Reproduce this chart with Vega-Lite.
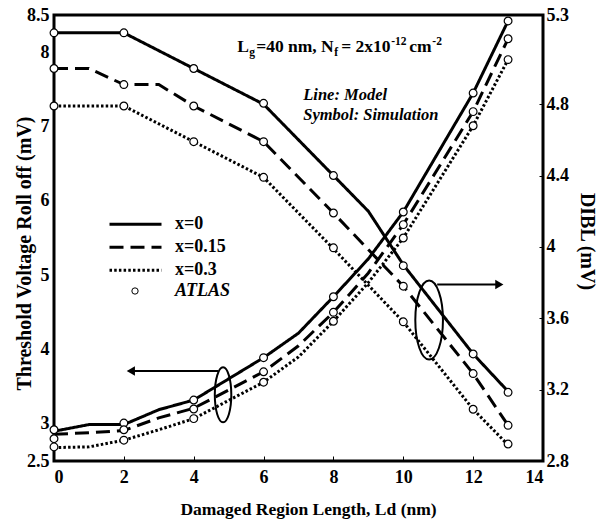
{
  "$schema": "https://vega.github.io/schema/vega-lite/v6.json",
  "width": 489,
  "height": 446,
  "autosize": {"type": "none"},
  "padding": {"left": 54, "top": 15, "right": 54, "bottom": 60},
  "background": "white",
  "config": {
    "view": {"stroke": "black", "strokeWidth": 3},
    "font": "Liberation Serif",
    "axis": {
      "domain": false, "grid": false,
      "labelFont": "Liberation Serif", "labelFontWeight": "bold", "labelFontSize": 18, "labelColor": "black",
      "titleFont": "Liberation Serif", "titleFontWeight": "bold", "titleColor": "black",
      "tickColor": "black"
    },
    "legend": {"labelFont": "Liberation Serif", "labelColor": "black"}
  },
  "datasets": {
    "lines": [
      {"L": 0, "series": "x=0", "kind": "V", "value": 2.90},
      {"L": 1, "series": "x=0", "kind": "V", "value": 2.99},
      {"L": 2, "series": "x=0", "kind": "V", "value": 2.99},
      {"L": 3, "series": "x=0", "kind": "V", "value": 3.19},
      {"L": 4, "series": "x=0", "kind": "V", "value": 3.32},
      {"L": 6, "series": "x=0", "kind": "V", "value": 3.89},
      {"L": 7, "series": "x=0", "kind": "V", "value": 4.22},
      {"L": 8, "series": "x=0", "kind": "V", "value": 4.71},
      {"L": 9, "series": "x=0", "kind": "V", "value": 5.22},
      {"L": 10, "series": "x=0", "kind": "V", "value": 5.85},
      {"L": 12, "series": "x=0", "kind": "V", "value": 7.45},
      {"L": 13, "series": "x=0", "kind": "V", "value": 8.42},
      {"L": 0, "series": "x=0.15", "kind": "V", "value": 2.86},
      {"L": 1, "series": "x=0.15", "kind": "V", "value": 2.88},
      {"L": 2, "series": "x=0.15", "kind": "V", "value": 2.91},
      {"L": 3, "series": "x=0.15", "kind": "V", "value": 3.08},
      {"L": 4, "series": "x=0.15", "kind": "V", "value": 3.21},
      {"L": 6, "series": "x=0.15", "kind": "V", "value": 3.70},
      {"L": 7, "series": "x=0.15", "kind": "V", "value": 4.05},
      {"L": 8, "series": "x=0.15", "kind": "V", "value": 4.50},
      {"L": 9, "series": "x=0.15", "kind": "V", "value": 5.03},
      {"L": 10, "series": "x=0.15", "kind": "V", "value": 5.68},
      {"L": 12, "series": "x=0.15", "kind": "V", "value": 7.20},
      {"L": 13, "series": "x=0.15", "kind": "V", "value": 8.18},
      {"L": 0, "series": "x=0.3", "kind": "V", "value": 2.68},
      {"L": 1, "series": "x=0.3", "kind": "V", "value": 2.69},
      {"L": 2, "series": "x=0.3", "kind": "V", "value": 2.78},
      {"L": 3, "series": "x=0.3", "kind": "V", "value": 2.92},
      {"L": 4, "series": "x=0.3", "kind": "V", "value": 3.07},
      {"L": 6, "series": "x=0.3", "kind": "V", "value": 3.56},
      {"L": 7, "series": "x=0.3", "kind": "V", "value": 3.90},
      {"L": 8, "series": "x=0.3", "kind": "V", "value": 4.38},
      {"L": 9, "series": "x=0.3", "kind": "V", "value": 4.90},
      {"L": 10, "series": "x=0.3", "kind": "V", "value": 5.50},
      {"L": 12, "series": "x=0.3", "kind": "V", "value": 7.01},
      {"L": 13, "series": "x=0.3", "kind": "V", "value": 7.90},
      {"L": 0, "series": "x=0", "kind": "D", "value": 5.20},
      {"L": 2, "series": "x=0", "kind": "D", "value": 5.20},
      {"L": 4, "series": "x=0", "kind": "D", "value": 5.00},
      {"L": 6, "series": "x=0", "kind": "D", "value": 4.80},
      {"L": 8, "series": "x=0", "kind": "D", "value": 4.40},
      {"L": 9, "series": "x=0", "kind": "D", "value": 4.20},
      {"L": 10, "series": "x=0", "kind": "D", "value": 3.90},
      {"L": 12, "series": "x=0", "kind": "D", "value": 3.40},
      {"L": 13, "series": "x=0", "kind": "D", "value": 3.19},
      {"L": 0, "series": "x=0.15", "kind": "D", "value": 5.00},
      {"L": 1, "series": "x=0.15", "kind": "D", "value": 5.00},
      {"L": 2, "series": "x=0.15", "kind": "D", "value": 4.91},
      {"L": 3, "series": "x=0.15", "kind": "D", "value": 4.91},
      {"L": 4, "series": "x=0.15", "kind": "D", "value": 4.79},
      {"L": 6, "series": "x=0.15", "kind": "D", "value": 4.59},
      {"L": 8, "series": "x=0.15", "kind": "D", "value": 4.19},
      {"L": 10, "series": "x=0.15", "kind": "D", "value": 3.78},
      {"L": 12, "series": "x=0.15", "kind": "D", "value": 3.29},
      {"L": 13, "series": "x=0.15", "kind": "D", "value": 3.00},
      {"L": 0, "series": "x=0.3", "kind": "D", "value": 4.79},
      {"L": 2, "series": "x=0.3", "kind": "D", "value": 4.79},
      {"L": 4, "series": "x=0.3", "kind": "D", "value": 4.59},
      {"L": 6, "series": "x=0.3", "kind": "D", "value": 4.39},
      {"L": 8, "series": "x=0.3", "kind": "D", "value": 3.99},
      {"L": 10, "series": "x=0.3", "kind": "D", "value": 3.58},
      {"L": 12, "series": "x=0.3", "kind": "D", "value": 3.09},
      {"L": 13, "series": "x=0.3", "kind": "D", "value": 2.89}
    ],
    "sims": [
      {"L": 0, "series": "x=0", "kind": "V", "value": 2.92, "src": "ATLAS"},
      {"L": 2, "series": "x=0", "kind": "V", "value": 3.01, "src": "ATLAS"},
      {"L": 4, "series": "x=0", "kind": "V", "value": 3.32, "src": "ATLAS"},
      {"L": 6, "series": "x=0", "kind": "V", "value": 3.89, "src": "ATLAS"},
      {"L": 8, "series": "x=0", "kind": "V", "value": 4.71, "src": "ATLAS"},
      {"L": 10, "series": "x=0", "kind": "V", "value": 5.85, "src": "ATLAS"},
      {"L": 12, "series": "x=0", "kind": "V", "value": 7.45, "src": "ATLAS"},
      {"L": 13, "series": "x=0", "kind": "V", "value": 8.42, "src": "ATLAS"},
      {"L": 0, "series": "x=0.15", "kind": "V", "value": 2.80, "src": "ATLAS"},
      {"L": 2, "series": "x=0.15", "kind": "V", "value": 2.92, "src": "ATLAS"},
      {"L": 4, "series": "x=0.15", "kind": "V", "value": 3.20, "src": "ATLAS"},
      {"L": 6, "series": "x=0.15", "kind": "V", "value": 3.70, "src": "ATLAS"},
      {"L": 8, "series": "x=0.15", "kind": "V", "value": 4.50, "src": "ATLAS"},
      {"L": 10, "series": "x=0.15", "kind": "V", "value": 5.68, "src": "ATLAS"},
      {"L": 12, "series": "x=0.15", "kind": "V", "value": 7.20, "src": "ATLAS"},
      {"L": 13, "series": "x=0.15", "kind": "V", "value": 8.18, "src": "ATLAS"},
      {"L": 0, "series": "x=0.3", "kind": "V", "value": 2.69, "src": "ATLAS"},
      {"L": 2, "series": "x=0.3", "kind": "V", "value": 2.78, "src": "ATLAS"},
      {"L": 4, "series": "x=0.3", "kind": "V", "value": 3.07, "src": "ATLAS"},
      {"L": 6, "series": "x=0.3", "kind": "V", "value": 3.56, "src": "ATLAS"},
      {"L": 8, "series": "x=0.3", "kind": "V", "value": 4.38, "src": "ATLAS"},
      {"L": 10, "series": "x=0.3", "kind": "V", "value": 5.50, "src": "ATLAS"},
      {"L": 12, "series": "x=0.3", "kind": "V", "value": 7.01, "src": "ATLAS"},
      {"L": 13, "series": "x=0.3", "kind": "V", "value": 7.90, "src": "ATLAS"},
      {"L": 0, "series": "x=0", "kind": "D", "value": 5.20, "src": "ATLAS"},
      {"L": 2, "series": "x=0", "kind": "D", "value": 5.20, "src": "ATLAS"},
      {"L": 4, "series": "x=0", "kind": "D", "value": 5.00, "src": "ATLAS"},
      {"L": 6, "series": "x=0", "kind": "D", "value": 4.805, "src": "ATLAS"},
      {"L": 8, "series": "x=0", "kind": "D", "value": 4.40, "src": "ATLAS"},
      {"L": 10, "series": "x=0", "kind": "D", "value": 3.895, "src": "ATLAS"},
      {"L": 12, "series": "x=0", "kind": "D", "value": 3.40, "src": "ATLAS"},
      {"L": 13, "series": "x=0", "kind": "D", "value": 3.185, "src": "ATLAS"},
      {"L": 0, "series": "x=0.15", "kind": "D", "value": 5.00, "src": "ATLAS"},
      {"L": 2, "series": "x=0.15", "kind": "D", "value": 4.91, "src": "ATLAS"},
      {"L": 4, "series": "x=0.15", "kind": "D", "value": 4.79, "src": "ATLAS"},
      {"L": 6, "series": "x=0.15", "kind": "D", "value": 4.59, "src": "ATLAS"},
      {"L": 8, "series": "x=0.15", "kind": "D", "value": 4.19, "src": "ATLAS"},
      {"L": 10, "series": "x=0.15", "kind": "D", "value": 3.78, "src": "ATLAS"},
      {"L": 12, "series": "x=0.15", "kind": "D", "value": 3.29, "src": "ATLAS"},
      {"L": 13, "series": "x=0.15", "kind": "D", "value": 3.00, "src": "ATLAS"},
      {"L": 0, "series": "x=0.3", "kind": "D", "value": 4.79, "src": "ATLAS"},
      {"L": 2, "series": "x=0.3", "kind": "D", "value": 4.79, "src": "ATLAS"},
      {"L": 4, "series": "x=0.3", "kind": "D", "value": 4.59, "src": "ATLAS"},
      {"L": 6, "series": "x=0.3", "kind": "D", "value": 4.39, "src": "ATLAS"},
      {"L": 8, "series": "x=0.3", "kind": "D", "value": 3.995, "src": "ATLAS"},
      {"L": 10, "series": "x=0.3", "kind": "D", "value": 3.58, "src": "ATLAS"},
      {"L": 12, "series": "x=0.3", "kind": "D", "value": 3.09, "src": "ATLAS"},
      {"L": 13, "series": "x=0.3", "kind": "D", "value": 2.895, "src": "ATLAS"}
    ]
  },
  "encoding": {
    "x": {
      "field": "L", "type": "quantitative",
      "scale": {"domain": [0, 14], "nice": false, "zero": false},
      "axis": {
        "values": [0, 2, 4, 6, 8, 10, 12, 14], "format": ".2~g",
        "tickSize": -5, "tickWidth": 1, "labelPadding": 12,
        "title": "Damaged Region Length, Ld (nm)", "titleFontSize": 17.5,
        "titleX": 254, "titleY": 53, "titleAlign": "center", "titleBaseline": "alphabetic"
      }
    }
  },
  "layer": [
    {
      "encoding": {
        "y": {
          "field": "value", "type": "quantitative",
          "scale": {"domain": [2.5, 8.5], "nice": false, "zero": false},
          "axis": {
            "orient": "left", "values": [2.5, 3, 4, 5, 6, 7, 8, 8.5], "format": ".2~g",
            "ticks": false, "labelPadding": 5,
            "title": "Threshold Voltage Roll off (mV)", "titleFontSize": 20,
            "titleAngle": 270, "titleX": -24, "titleY": 238, "titleAlign": "center", "titleBaseline": "alphabetic"
          }
        }
      },
      "layer": [
        {
          "data": {"name": "lines"},
          "transform": [{"filter": "datum.kind === 'V'"}],
          "mark": {"type": "line", "color": "black", "strokeWidth": 3},
          "encoding": {
            "strokeDash": {
              "field": "series", "type": "nominal",
              "scale": {"domain": ["x=0", "x=0.15", "x=0.3"], "range": [[1, 0], [14, 7], [2.5, 2.2]]},
              "legend": {
                "title": null, "orient": "none", "legendX": 54, "legendY": 198, "padding": 0,
                "symbolType": "stroke", "symbolSize": 2704, "symbolStrokeWidth": 3, "symbolStrokeColor": "black",
                "labelFontSize": 18, "labelFontWeight": "bold", "labelOffset": 12, "clipHeight": 22.5, "rowPadding": 0
              }
            }
          }
        },
        {
          "data": {"name": "sims"},
          "transform": [{"filter": "datum.kind === 'V'"}],
          "mark": {"type": "point", "shape": "circle", "filled": false, "fill": "white", "strokeWidth": 1.2, "size": 60, "opacity": 1},
          "encoding": {
            "color": {
              "field": "src", "type": "nominal",
              "scale": {"domain": ["ATLAS"], "range": ["black"]},
              "legend": {
                "title": null, "orient": "none", "legendX": 72, "legendY": 267, "padding": 0,
                "symbolType": "circle", "symbolSize": 40, "symbolStrokeWidth": 1,
                "labelFontSize": 18, "labelFontWeight": "bold", "labelFontStyle": "italic", "labelOffset": 31
              }
            }
          }
        },
        {
          "data": {"values": [{"L": 4.84, "value": 3.39}]},
          "mark": {"type": "point", "filled": false, "stroke": "black", "strokeWidth": 2, "opacity": 1, "size": 3025,
            "shape": "M0,-1C0.166,-1 0.3,-0.552 0.3,0C0.3,0.552 0.166,1 0,1C-0.166,1 -0.3,0.552 -0.3,0C-0.3,-0.552 -0.166,-1 0,-1Z"}
        },
        {
          "data": {"values": [{"L": 2.25, "L2": 4.70, "value": 3.71}]},
          "mark": {"type": "rule", "color": "black", "strokeWidth": 2},
          "encoding": {"x2": {"field": "L2"}}
        },
        {
          "data": {"values": [{"L": 2.2, "value": 3.71}]},
          "mark": {"type": "point", "shape": "triangle-left", "filled": true, "color": "black", "size": 90, "opacity": 1}
        },
        {
          "data": {"values": [
            {"L": 5.244, "value": 8.0, "text": "L"},
            {"L": 5.788, "value": 8.0, "text": "=40 nm, N"},
            {"L": 8.223, "value": 8.0, "text": "= 2x10"},
            {"L": 10.172, "value": 8.0, "text": "cm"}
          ]},
          "mark": {"type": "text", "align": "left", "baseline": "alphabetic", "font": "Liberation Serif", "fontWeight": "bold", "fontSize": 17.5, "color": "black"},
          "encoding": {"text": {"field": "text"}}
        },
        {
          "data": {"values": [
            {"L": 5.587, "value": 8.0, "text": "g"},
            {"L": 8.023, "value": 8.0, "text": "f"}
          ]},
          "mark": {"type": "text", "align": "left", "baseline": "alphabetic", "dy": 4, "font": "Liberation Serif", "fontWeight": "bold", "fontSize": 11.5, "color": "black"},
          "encoding": {"text": {"field": "text"}}
        },
        {
          "data": {"values": [
            {"L": 9.656, "value": 8.0, "text": "-12"},
            {"L": 10.831, "value": 8.0, "text": "-2"}
          ]},
          "mark": {"type": "text", "align": "left", "baseline": "alphabetic", "dy": -7, "font": "Liberation Serif", "fontWeight": "bold", "fontSize": 11.5, "color": "black"},
          "encoding": {"text": {"field": "text"}}
        },
        {
          "data": {"values": [
            {"L": 7.135, "value": 7.359, "text": "Line: Model"},
            {"L": 7.135, "value": 7.089, "text": "Symbol: Simulation"}
          ]},
          "mark": {"type": "text", "align": "left", "baseline": "alphabetic", "font": "Liberation Serif", "fontWeight": "bold", "fontStyle": "italic", "fontSize": 16.5, "color": "black"},
          "encoding": {"text": {"field": "text"}}
        }
      ]
    },
    {
      "encoding": {
        "y": {
          "field": "value", "type": "quantitative",
          "scale": {"domain": [2.8, 5.3], "nice": false, "zero": false},
          "axis": {
            "orient": "right", "values": [2.8, 3.2, 3.6, 4, 4.4, 4.8, 5.3], "format": ".2~g",
            "tickSize": -4, "tickWidth": 1, "labelPadding": 7,
            "title": "DIBL (mV)", "titleFontSize": 20,
            "titleAngle": 90, "titleX": 37, "titleY": 226, "titleAlign": "center", "titleBaseline": "alphabetic"
          }
        }
      },
      "layer": [
        {
          "data": {"name": "lines"},
          "transform": [{"filter": "datum.kind === 'D'"}],
          "mark": {"type": "line", "color": "black", "strokeWidth": 3},
          "encoding": {
            "strokeDash": {
              "field": "series", "type": "nominal",
              "scale": {"domain": ["x=0", "x=0.15", "x=0.3"], "range": [[1, 0], [14, 7], [2.5, 2.2]]},
              "legend": {
                "title": null, "orient": "none", "legendX": 54, "legendY": 198, "padding": 0,
                "symbolType": "stroke", "symbolSize": 2704, "symbolStrokeWidth": 3, "symbolStrokeColor": "black",
                "labelFontSize": 18, "labelFontWeight": "bold", "labelOffset": 12, "clipHeight": 22.5, "rowPadding": 0
              }
            }
          }
        },
        {
          "data": {"name": "sims"},
          "transform": [{"filter": "datum.kind === 'D'"}],
          "mark": {"type": "point", "shape": "circle", "filled": false, "fill": "white", "strokeWidth": 1.2, "size": 60, "opacity": 1},
          "encoding": {
            "color": {
              "field": "src", "type": "nominal",
              "scale": {"domain": ["ATLAS"], "range": ["black"]},
              "legend": {
                "title": null, "orient": "none", "legendX": 72, "legendY": 267, "padding": 0,
                "symbolType": "circle", "symbolSize": 40, "symbolStrokeWidth": 1,
                "labelFontSize": 18, "labelFontWeight": "bold", "labelFontStyle": "italic", "labelOffset": 31
              }
            }
          }
        },
        {
          "data": {"values": [{"L": 10.74, "value": 3.59}]},
          "mark": {"type": "point", "filled": false, "stroke": "black", "strokeWidth": 2, "opacity": 1, "size": 6241,
            "shape": "M0,-1C0.193,-1 0.35,-0.552 0.35,0C0.35,0.552 0.193,1 0,1C-0.193,1 -0.35,0.552 -0.35,0C-0.35,-0.552 -0.193,-1 0,-1Z"}
        },
        {
          "data": {"values": [{"L": 10.97, "L2": 12.7, "value": 3.79}]},
          "mark": {"type": "rule", "color": "black", "strokeWidth": 2},
          "encoding": {"x2": {"field": "L2"}}
        },
        {
          "data": {"values": [{"L": 12.75, "value": 3.79}]},
          "mark": {"type": "point", "shape": "triangle-right", "filled": true, "color": "black", "size": 90, "opacity": 1}
        }
      ]
    }
  ],
  "resolve": {"scale": {"y": "independent"}}
}
